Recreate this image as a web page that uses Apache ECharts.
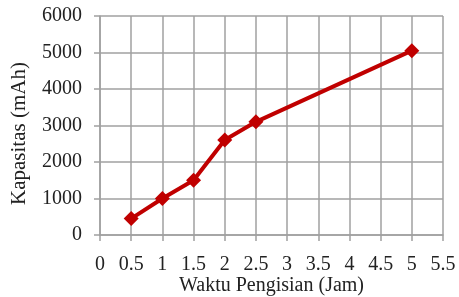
<!DOCTYPE html>
<html>
<head>
<meta charset="utf-8">
<script src="https://cdn.jsdelivr.net/npm/echarts@6/dist/echarts.min.js"></script>
<style>
  html, body { margin: 0; padding: 0; background: #fff; }
  #chart { width: 459px; height: 297px; }
</style>
</head>
<body>
<div id="chart"></div>
<script>
// data
const waktu = [0.5, 1, 1.5, 2, 2.5, 5];
const kapasitas = [450, 1000, 1500, 2600, 3100, 5050];

const font = 'Liberation Serif';
const gridColor = '#a0a0a0';

var myChart = echarts.init(document.getElementById('chart'));

var option = {
    animation: false,
    grid: { left: 100, right: 16, top: 16, bottom: 62, outerBoundsMode: 'none' },
    xAxis: {
        type: 'value',
        min: 0, max: 5.5, interval: 0.5,
        name: 'Waktu Pengisian (Jam)',
        nameLocation: 'middle',
        nameGap: 41,
        nameMoveOverlap: false,
        nameTextStyle: { fontFamily: font, fontSize: 20, color: '#222' },
        axisLine: { show: true, lineStyle: { color: gridColor, width: 1.5 } },
        axisTick: { show: true, length: 6, lineStyle: { color: gridColor, width: 1.5 } },
        axisLabel: { fontFamily: font, fontSize: 20, color: '#222', margin: 20 },
        splitLine: { show: true, lineStyle: { color: gridColor, width: 1.5 } }
    },
    yAxis: {
        type: 'value',
        min: 0, max: 6000, interval: 1000,
        name: 'Kapasitas (mAh)',
        nameLocation: 'middle',
        nameGap: 70,
        nameMoveOverlap: false,
        nameTextStyle: { fontFamily: font, fontSize: 21, color: '#222', padding: [0, 16, 0, 0] },
        axisLine: { show: true, lineStyle: { color: gridColor, width: 1.5 } },
        axisTick: { show: true, length: 6, lineStyle: { color: gridColor, width: 1.5 } },
        axisLabel: { fontFamily: font, fontSize: 20, color: '#222', margin: 18, formatter: v => String(v) },
        splitLine: { show: true, lineStyle: { color: gridColor, width: 1.5 } }
    },
    series: [
        {
            type: 'line',
            data: waktu.map((x, i) => [x, kapasitas[i]]),
            symbol: 'diamond',
            symbolSize: 15,
            lineStyle: { color: '#c00000', width: 4 },
            itemStyle: { color: '#c00000' }
        }
    ]
};

myChart.setOption(option);
</script>
</body>
</html>
